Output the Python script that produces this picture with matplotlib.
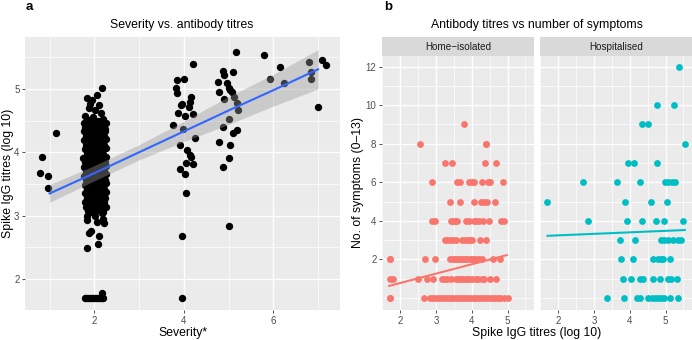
import matplotlib.pyplot as plt

plt.rcParams['font.family'] = ['Liberation Sans', 'DejaVu Sans']

# ---- panel a: severity vs spike IgG titre (log10) ----
sev1 = [(0.84, 3.92), (0.78, 3.67), (0.97, 3.62), (0.97, 3.43), (1.15, 4.31)]
sev2_top = [(2.17, 5.01), (2.05, 4.90), (1.83, 4.85), (1.90, 4.77), (1.95, 4.82),
            (2.10, 4.75), (2.14, 4.62), (1.88, 4.70), (2.02, 4.66), (1.80, 4.58),
            (1.97, 4.55), (2.20, 4.53), (2.08, 4.50), (1.85, 4.51)]
sev2_mid = [
    (1.76, 4.46), (1.87, 4.44), (1.98, 4.47), (2.08, 4.45), (2.19, 4.43), (2.26, 4.46),
    (1.80, 4.40), (1.92, 4.38), (2.03, 4.41), (2.13, 4.39), (2.23, 4.37),
    (1.77, 4.33), (1.85, 4.31), (1.96, 4.34), (2.06, 4.32), (2.16, 4.30), (2.24, 4.33),
    (1.82, 4.26), (1.93, 4.25), (2.01, 4.27), (2.11, 4.24), (2.21, 4.26),
    (1.76, 4.19), (1.88, 4.18), (1.99, 4.20), (2.09, 4.17), (2.18, 4.19), (2.27, 4.21),
    (1.81, 4.12), (1.91, 4.11), (2.04, 4.13), (2.14, 4.10), (2.22, 4.12),
    (1.78, 4.05), (1.86, 4.04), (1.97, 4.06), (2.07, 4.03), (2.17, 4.05), (2.25, 4.07),
    (1.83, 3.98), (1.94, 3.97), (2.02, 3.99), (2.12, 3.96), (2.20, 3.98),
    (1.75, 3.91), (1.87, 3.90), (1.99, 3.92), (2.09, 3.89), (2.18, 3.91), (2.26, 3.93),
    (1.80, 3.84), (1.92, 3.83), (2.04, 3.85), (2.14, 3.82), (2.23, 3.84),
    (1.77, 3.77), (1.85, 3.76), (1.96, 3.78), (2.06, 3.75), (2.16, 3.77), (2.27, 3.79),
    (1.82, 3.70), (1.93, 3.69), (2.01, 3.71), (2.11, 3.68), (2.21, 3.70),
    (1.76, 3.63), (1.88, 3.62), (1.98, 3.64), (2.08, 3.61), (2.18, 3.63), (2.25, 3.65),
    (1.81, 3.56), (1.91, 3.55), (2.03, 3.57), (2.13, 3.54), (2.24, 3.56),
    (1.78, 3.49), (1.86, 3.48), (1.97, 3.50), (2.07, 3.47), (2.17, 3.49), (2.26, 3.51),
    (1.84, 3.42), (1.94, 3.41), (2.02, 3.43), (2.12, 3.40), (2.22, 3.42),
    (1.79, 3.35), (1.90, 3.34), (2.00, 3.36), (2.10, 3.33), (2.20, 3.35), (2.27, 3.37),
    (1.83, 3.28), (1.95, 3.27), (2.05, 3.29), (2.15, 3.26), (2.24, 3.28),
    (1.80, 3.21), (1.89, 3.20), (2.01, 3.22), (2.11, 3.19), (2.21, 3.21),
    (1.82, 3.14), (1.93, 3.13), (2.04, 3.15), (2.16, 3.12), (2.25, 3.14),
    (1.86, 3.08), (1.98, 3.07), (2.09, 3.09), (2.19, 3.06)]
sev2_low = [(1.84, 3.00), (2.02, 3.00), (2.17, 3.04), (1.84, 2.93), (2.05, 2.90),
            (2.22, 2.88), (1.87, 2.73), (1.93, 2.75), (2.11, 2.68), (2.08, 2.55),
            (1.83, 2.49), (2.20, 2.95), (1.95, 3.05)]
sev2_floor = [(1.78, 1.70), (1.82, 1.70), (1.86, 1.70), (1.90, 1.70), (1.94, 1.70),
              (1.98, 1.70), (2.02, 1.70), (2.06, 1.70), (2.10, 1.70), (2.14, 1.70),
              (2.18, 1.70), (2.20, 1.70), (2.17, 1.78)]
sev4 = [(3.84, 5.14), (4.01, 5.15), (4.21, 5.40), (3.82, 5.01), (3.84, 4.93),
        (3.95, 4.77), (3.93, 4.74), (4.17, 4.87), (4.14, 4.80), (4.12, 4.72),
        (3.88, 4.62), (4.02, 4.57), (4.20, 4.60), (3.76, 4.43), (3.99, 4.37),
        (4.25, 4.22), (3.91, 4.11), (4.08, 4.03), (4.14, 3.95), (4.17, 3.92),
        (4.04, 3.83), (4.21, 3.82), (3.91, 3.73), (4.02, 3.66), (4.04, 3.35),
        (3.95, 2.68), (3.96, 1.70)]
sev5 = [(5.16, 5.58), (4.87, 5.28), (4.90, 5.22), (5.09, 5.26), (4.77, 5.11),
        (4.97, 5.09), (5.01, 5.01), (4.79, 4.95), (5.03, 4.98), (5.07, 4.95),
        (4.90, 4.84), (5.12, 4.87), (5.19, 4.78), (5.21, 4.67), (5.01, 4.53),
        (4.87, 4.40), (5.19, 4.35), (5.09, 4.30), (4.78, 4.16), (5.04, 4.12),
        (5.01, 3.91), (4.87, 3.77), (5.01, 2.84)]
sev67 = [(5.79, 5.53), (5.92, 5.16), (6.15, 5.35), (6.23, 5.09), (6.80, 5.43),
         (6.85, 5.27), (6.85, 5.15), (7.08, 5.46), (7.17, 5.38), (7.00, 4.72)]

# linear fit with 95% band
fit_x = [1, 2, 3, 4, 5, 6, 7]
fit_mid = [3.35, 3.67, 4.00, 4.33, 4.66, 4.98, 5.31]
fit_lo = [3.21, 3.55, 3.88, 4.17, 4.44, 4.73, 5.00]
fit_hi = [3.49, 3.79, 4.12, 4.49, 4.88, 5.23, 5.62]

# ---- panel b: titre vs number of symptoms, by setting ----
home_rows = {
    0: [1.70, 1.70, 2.67, 2.83, 2.92, 3.00, 3.08, 3.15, 3.22, 3.30, 3.38, 3.45, 3.52,
        3.60, 3.67, 3.75, 3.82, 3.90, 3.97, 4.05, 4.12, 4.20, 4.27, 4.35, 4.42, 4.50,
        4.58, 4.65, 4.72, 4.80, 4.90, 5.02],
    1: [1.71, 1.79, 2.49, 2.74, 2.92, 3.17, 3.25, 3.32, 3.42, 3.55, 3.62, 3.68, 3.74,
        3.80, 3.86, 3.92, 4.00, 4.13, 4.18, 4.30, 4.35, 4.50, 4.67],
    2: [1.70, 1.70, 2.70, 2.98, 3.40, 3.47, 3.52, 3.58, 3.64, 3.70, 3.76, 3.82, 3.88,
        3.94, 4.00, 4.05, 4.12, 4.20, 4.28, 4.58, 4.79],
    3: [3.26, 3.32, 3.40, 3.48, 3.56, 3.72, 3.82, 3.90, 3.96, 4.02, 4.23, 4.40],
    4: [2.90, 2.97, 3.42, 3.47, 3.54, 3.60, 3.85, 3.93, 4.06, 4.13, 4.20, 4.32, 4.49,
        4.83, 4.90],
    5: [3.39, 3.67, 4.07, 4.27, 4.34, 4.43, 4.65],
    6: [2.89, 3.60, 3.68, 3.93, 4.00, 4.06, 4.28, 4.44, 4.50, 4.86],
    7: [3.24, 3.44, 4.38, 4.69],
    8: [2.54, 4.41, 4.39],
    9: [3.79],
}
hosp_rows = {
    0: [3.35, 3.84, 4.19, 4.30, 4.52, 4.61, 4.71, 4.80, 4.88, 4.97, 5.13, 5.36],
    1: [3.82, 4.03, 4.30, 4.38, 4.66, 4.85, 5.06, 5.14, 5.33],
    2: [3.75, 4.10, 4.66, 4.78, 4.88, 4.94, 5.13],
    3: [3.72, 4.15, 4.88, 4.97, 5.08, 5.22, 5.34, 5.44],
    4: [2.83, 3.91, 4.35, 4.72, 4.97, 5.50],
    5: [1.68, 3.88, 4.59, 5.05],
    6: [2.68, 3.65, 4.28, 4.98, 5.07, 5.17, 5.26],
    7: [3.94, 4.11, 4.75],
    8: [5.55],
    9: [4.33, 4.52],
    10: [4.75, 5.23],
    12: [5.38],
}
home_fit_x, home_fit_y = [1.69, 4.98], [0.62, 2.22]
hosp_fit_x, hosp_fit_y = [1.70, 5.54], [3.22, 3.52]

RED, CYAN = '#F8766D', '#00BFC4'
PANEL, STRIP = '#EBEBEB', '#D9D9D9'
W, H = 692, 340


def box(x0, y0, x1, y1):
    return [x0 / W, 1 - y1 / H, (x1 - x0) / W, (y1 - y0) / H]


def gg(ax, xmaj, xmin, ymaj, ymin):
    ax.set_facecolor(PANEL)
    for s in ax.spines.values():
        s.set_visible(False)
    ax.set_xticks(xmaj); ax.set_xticks(xmin, minor=True)
    ax.set_yticks(ymaj); ax.set_yticks(ymin, minor=True)
    ax.grid(which='major', color='white', lw=1.0)
    ax.grid(which='minor', color='white', lw=0.5)
    ax.set_axisbelow(True)
    ax.tick_params(which='major', length=2.5, width=0.6, color='#333333',
                   labelcolor='#4D4D4D', labelsize=7, pad=1.5)
    ax.tick_params(which='minor', length=0)


fig = plt.figure(figsize=(6.92, 3.4), dpi=100)

# panel a
ax = fig.add_axes(box(25, 37, 340, 310))
gg(ax, [2, 4, 6], [1, 3, 5, 7], [2, 3, 4, 5], [1.5, 2.5, 3.5, 4.5, 5.5])
for grp in [sev1, sev2_top, sev2_mid, sev2_low, sev2_floor, sev4, sev5, sev67]:
    xs, ys = zip(*grp)
    ax.scatter(xs, ys, s=28, color='black', lw=0, zorder=2)
ax.fill_between(fit_x, fit_lo, fit_hi, color='#999999', alpha=0.4, lw=0, zorder=3)
ax.plot(fit_x, fit_mid, color='#3366FF', lw=1.5, zorder=4)
ax.set_xlim(0.45, 7.49)
ax.set_ylim(1.51, 5.82)

# panel b facets
for x0, x1, rows, fx, fy, col, lab, left in [
        (382, 534, home_rows, home_fit_x, home_fit_y, RED, 'Home\u2212isolated', True),
        (540, 692, hosp_rows, hosp_fit_x, hosp_fit_y, CYAN, 'Hospitalised', False)]:
    ax = fig.add_axes(box(x0, 56, x1, 310))
    gg(ax, [2, 3, 4, 5], [1.5, 2.5, 3.5, 4.5, 5.5],
       [2, 4, 6, 8, 10, 12], [0, 1, 3, 5, 7, 9, 11, 13])
    for n, xs in rows.items():
        ax.scatter(xs, [n] * len(xs), s=24, color=col, lw=0, zorder=2)
    ax.plot(fx, fy, color=col, lw=1.5, zorder=3)
    ax.set_xlim(1.49, 5.74)
    ax.set_ylim(-0.63, 12.55)
    if not left:
        ax.tick_params(axis='y', which='major', length=0, labelleft=False)
    st = fig.add_axes(box(x0, 37, x1, 56))
    st.set_facecolor(STRIP)
    st.set_xticks([]); st.set_yticks([])
    for s in st.spines.values():
        s.set_visible(False)
    st.text(0.5, 0.5, lab, ha='center', va='center', fontsize=7.1,
            color='#1A1A1A', transform=st.transAxes)


def ftext(x, y, s, **kw):
    fig.text(x / W, 1 - y / H, s, **kw)


ftext(26, 7, 'a', fontsize=9.5, fontweight='bold', va='center', ha='left')
ftext(384, 7, 'b', fontsize=9.5, fontweight='bold', va='center', ha='left')
ftext(182, 25, 'Severity vs. antibody titres', fontsize=8.8, ha='center', va='center')
ftext(537, 25, 'Antibody titres vs number of symptoms', fontsize=8.8,
      ha='center', va='center')
ftext(183, 333, 'Severity*', fontsize=8.8, ha='center', va='center')
ftext(537, 333, 'Spike IgG titres (log 10)', fontsize=8.8, ha='center', va='center')
ftext(8, 173, 'Spike IgG titres (log 10)', fontsize=8.8, ha='center',
      va='center', rotation=90)
ftext(358, 183, 'No. of symptoms (0\u201313)', fontsize=8.8, ha='center',
      va='center', rotation=90)

fig.savefig('out.png', dpi=100)
